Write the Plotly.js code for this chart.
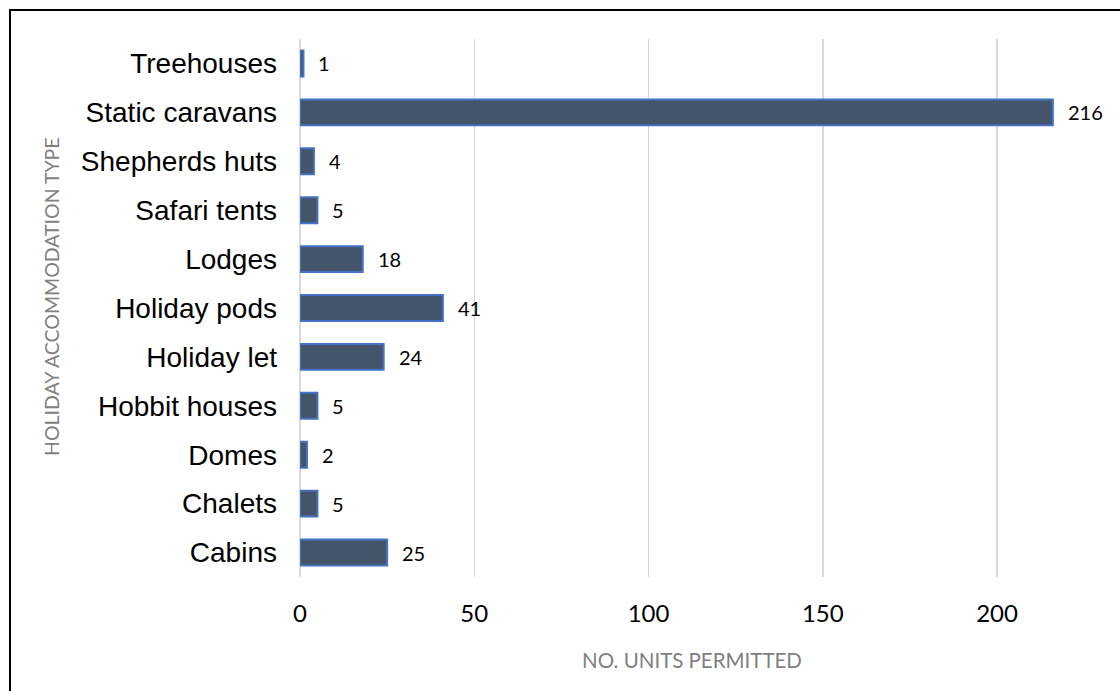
<!DOCTYPE html>
<html>
<head>
<meta charset="utf-8">
<script src="https://cdn.plot.ly/plotly-3.0.1.min.js"></script>
<style>
  html, body { margin: 0; padding: 0; background: #fff; }
  #wrap { position: relative; width: 1120px; height: 691px; overflow: hidden; }
  #chart { position: absolute; left: 0; top: 0; width: 1120px; height: 691px; }
  #frame { position: absolute; left: 9px; top: 9px; width: 1300px; height: 900px;
           border-left: 2px solid #000; border-top: 2px solid #000; pointer-events: none; }
</style>
</head>
<body>
<div id="wrap">
  <div id="chart"></div>
  <div id="frame"></div>
</div>
<script>
// Categories listed bottom to top (as in the chart)
const categories = ["Cabins", "Chalets", "Domes", "Hobbit houses", "Holiday let", "Holiday pods",
                    "Lodges", "Safari tents", "Shepherds huts", "Static caravans", "Treehouses"];
const unitsPermitted = [25, 5, 2, 5, 24, 41, 18, 5, 4, 216, 1];
const xTickValues = [0, 50, 100, 150, 200];
const xTitle = "NO. UNITS PERMITTED";
const yTitle = "HOLIDAY ACCOMMODATION TYPE";

const plotW = 1120 - 300 - 10;
const plotH = 691 - 39 - 114;

const trace = {
  type: 'bar',
  orientation: 'h',
  y: categories,
  x: unitsPermitted,
  marker: { color: '#44546A', line: { color: '#4472C4', width: 2 } },
  hoverinfo: 'skip'
};

const labelAnnotations = categories.map((c, i) => ({
  x: unitsPermitted[i], y: c, xref: 'x', yref: 'y',
  text: String(unitsPermitted[i]),
  xanchor: 'left', yanchor: 'middle', xshift: 13, showarrow: false,
  font: { family: 'Lato, "Open Sans", sans-serif', size: 20, color: '#000' }
}));

const layout = {
  width: 1120, height: 691,
  margin: { l: 300, r: 10, t: 39, b: 114, pad: 0 },
  paper_bgcolor: '#fff', plot_bgcolor: '#fff',
  showlegend: false,
  bargap: 0.47,
  xaxis: {
    range: [0, 232.4],
    tickvals: xTickValues,
    ticktext: xTickValues.map(String),
    showgrid: true, gridcolor: '#D9D9D9', gridwidth: 1.5,
    zeroline: true, zerolinecolor: '#D9D9D9', zerolinewidth: 1.5,
    showline: false, ticks: '',
    ticklabelstandoff: 20,
    tickfont: { family: 'Lato, "Open Sans", sans-serif', size: 24, color: '#000' },
    fixedrange: true
  },
  yaxis: {
    type: 'category',
    categoryorder: 'array', categoryarray: categories,
    range: [-0.5, categories.length - 0.5],
    showgrid: false, zeroline: false, showline: false, ticks: '',
    ticklabelstandoff: 22,
    tickfont: { family: '"Liberation Sans", Arial, sans-serif', size: 28, color: '#000' },
    fixedrange: true
  },
  annotations: labelAnnotations.concat([
    {
      xref: 'paper', yref: 'paper',
      x: (692 - 300) / plotW, y: -(660 - 577) / plotH,
      text: xTitle, showarrow: false, xanchor: 'center', yanchor: 'middle',
      font: { family: 'Lato, "Open Sans", sans-serif', size: 20.5, color: '#7F7F7F' }
    },
    {
      xref: 'paper', yref: 'paper',
      x: (51 - 300) / plotW, y: (577 - 297) / plotH,
      text: yTitle, showarrow: false, textangle: -90, xanchor: 'center', yanchor: 'middle',
      font: { family: 'Lato, "Open Sans", sans-serif', size: 19.5, color: '#7F7F7F' }
    }
  ])
};

Plotly.newPlot('chart', [trace], layout, { displayModeBar: false, staticPlot: true });
</script>
</body>
</html>
